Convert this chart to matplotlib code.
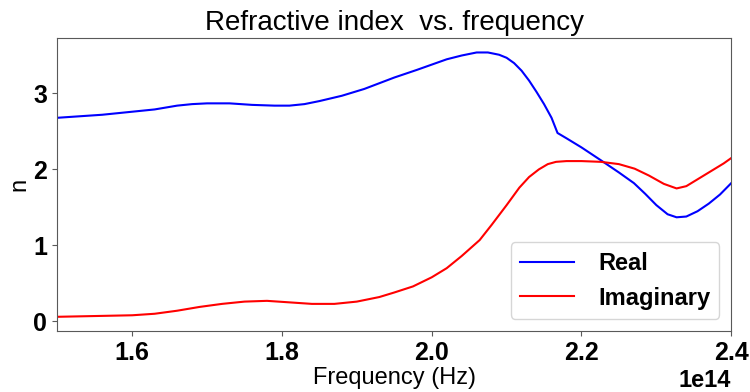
import matplotlib
matplotlib.use("Agg")
import matplotlib.pyplot as plt

plt.rcParams['font.family'] = ['Liberation Sans', 'DejaVu Sans']

# frequency in units of 1e14 Hz
freq_real = [1.50, 1.53, 1.56, 1.60, 1.63, 1.66, 1.68, 1.70, 1.73, 1.76, 1.79, 1.81,
             1.83, 1.85, 1.88, 1.91, 1.95, 1.98, 2.00, 2.02, 2.04, 2.06, 2.075,
             2.09, 2.10, 2.11, 2.12, 2.13, 2.14, 2.15, 2.16, 2.168, 2.18, 2.20,
             2.226, 2.25, 2.27, 2.285, 2.30, 2.315, 2.327, 2.34, 2.355, 2.37,
             2.385, 2.40]
n_real = [2.68, 2.70, 2.72, 2.76, 2.79, 2.84, 2.86, 2.87, 2.87, 2.85, 2.84, 2.84,
          2.86, 2.90, 2.97, 3.06, 3.21, 3.31, 3.38, 3.45, 3.50, 3.54, 3.54,
          3.51, 3.47, 3.40, 3.30, 3.17, 3.02, 2.86, 2.68, 2.48, 2.41, 2.29,
          2.12, 1.96, 1.82, 1.68, 1.53, 1.41, 1.37, 1.38, 1.45, 1.55,
          1.67, 1.82]

freq_imag = [1.50, 1.55, 1.60, 1.63, 1.66, 1.69, 1.72, 1.75, 1.78, 1.81, 1.84, 1.87,
             1.90, 1.93, 1.95, 1.975, 2.00, 2.02, 2.04, 2.064, 2.08, 2.10, 2.117,
             2.13, 2.143, 2.155, 2.166, 2.18, 2.20, 2.226, 2.25, 2.271, 2.29,
             2.31, 2.327, 2.34, 2.355, 2.375, 2.39, 2.40]
n_imag = [0.06, 0.07, 0.08, 0.10, 0.14, 0.19, 0.23, 0.26, 0.27, 0.25, 0.23, 0.23,
          0.26, 0.32, 0.38, 0.46, 0.58, 0.70, 0.86, 1.07, 1.27, 1.53, 1.76,
          1.90, 2.00, 2.07, 2.10, 2.11, 2.11, 2.10, 2.07, 2.01, 1.92,
          1.81, 1.75, 1.78, 1.87, 1.99, 2.08, 2.15]

x_real = [f * 1e14 for f in freq_real]
x_imag = [f * 1e14 for f in freq_imag]

fig = plt.figure(figsize=(7.5, 3.92), dpi=100)
ax = fig.add_axes([0.0764, 0.156, 0.8986, 0.746])
ax.plot(x_real, n_real, color='blue', lw=1.5, label='Real')
ax.plot(x_imag, n_imag, color='red', lw=1.5, label='Imaginary')
ax.set_xlim(1.5e14, 2.4e14)
ax.set_ylim(-0.125, 3.725)
ax.set_yticks([0, 1, 2, 3])
ax.set_xticks([1.6e14, 1.8e14, 2.0e14, 2.2e14, 2.4e14])
ax.ticklabel_format(axis='x', style='sci', scilimits=(0, 0), useMathText=False)

for lab in ax.get_xticklabels() + ax.get_yticklabels():
    lab.set_fontsize(18)
    lab.set_fontweight('bold')
ax.xaxis.get_offset_text().set_fontsize(17)
ax.xaxis.get_offset_text().set_fontweight('bold')

for s in ax.spines.values():
    s.set_color('0.35')
ax.tick_params(color='0.35', pad=4)

ax.set_title('Refractive index  vs. frequency', fontsize=20, pad=6)
ax.set_xlabel('Frequency (Hz)', fontsize=17, labelpad=1)
ax.set_ylabel('n', fontsize=17, labelpad=2)
ax.legend(loc='lower right', prop={'size': 17, 'weight': 'bold'},
          handlelength=2.3, handletextpad=1.0, borderaxespad=0.5)

fig.savefig('out.png', dpi=100)
